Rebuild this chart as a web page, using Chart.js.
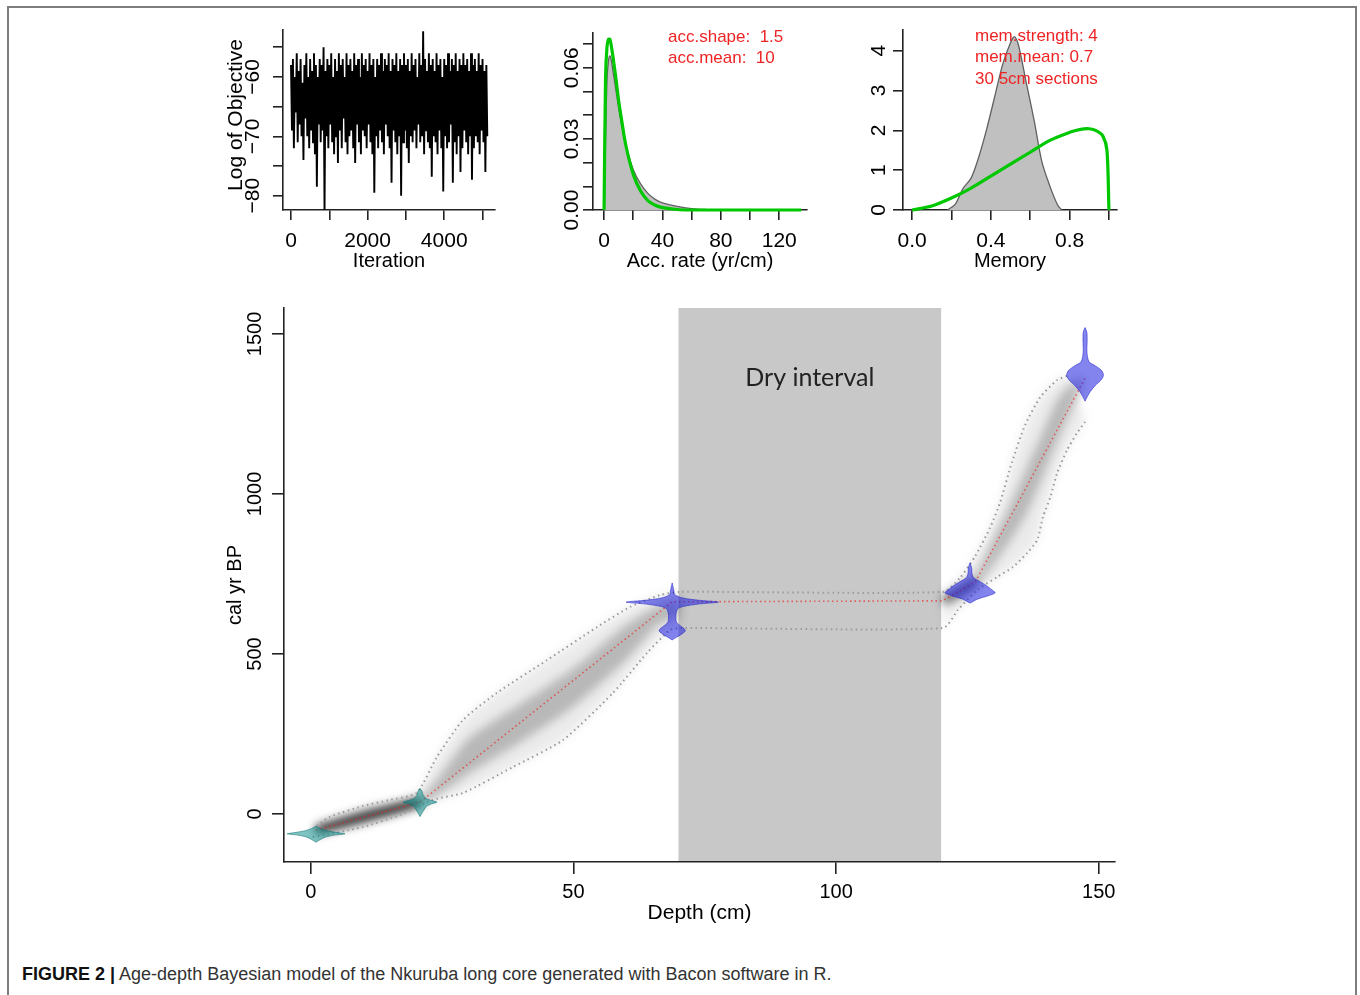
<!DOCTYPE html>
<html>
<head>
<meta charset="utf-8">
<script src="https://cdn.jsdelivr.net/npm/chart.js@4.4.1/dist/chart.umd.min.js"></script>
<style>
  body { margin: 0; background: #fff; }
  #page { position: relative; width: 1360px; height: 995px; overflow: hidden; background: #fff; }
  canvas { position: absolute; }
  #frame { position: absolute; left: 7px; top: 6px; width: 1346px; height: 1000px; border: 2px solid #7d7d7d; border-bottom: none; }
  #caption { position: absolute; left: 22px; top: 964px; font: 18px 'Liberation Sans', Arial, sans-serif; color: #333; white-space: nowrap; }
  #caption b { color: #111; }
  #mainShade { filter: blur(5px); }
</style>
</head>
<body>
<div id="page">
  <div id="frame"></div>
  <canvas id="trace" width="320" height="290" style="left:200px;top:0px"></canvas>
  <canvas id="acc" width="320" height="290" style="left:520px;top:0px"></canvas>
  <canvas id="mem" width="320" height="290" style="left:830px;top:0px"></canvas>
  <canvas id="mainBg" width="960" height="650" style="left:200px;top:290px"></canvas>
  <canvas id="mainShade" width="960" height="650" style="left:200px;top:290px"></canvas>
  <canvas id="mainFg" width="960" height="650" style="left:200px;top:290px"></canvas>
  <div id="caption"><b>FIGURE 2 |</b> Age-depth Bayesian model of the Nkuruba long core generated with Bacon software in R.</div>
</div>
<script>
// --- MCMC trace (one value every traceStep iterations) ---
const traceStep = 25;
const traceLogObj = [
  -58,-69,-57,-72,-60,-66,-56,-71,-59,-68,
  -57,-70,-61,-74,-58,-67,-56,-70,-60,-72,
  -57,-69,-59,-71,-56,-73,-58,-78.5,-60,-68,
  -57,-71,-58,-69,-55,-82.5,-59,-70,-57,-72,
  -58,-68,-56,-71,-60,-73,-57,-70,-59,-74.5,
  -56,-69,-58,-72,-57,-67,-60,-71,-56,-73,
  -58,-70,-57,-69,-59,-72,-56,-74.5,-58,-68,
  -57,-71,-60,-73,-56,-69,-58,-70,-57,-72,
  -59,-68,-56,-71,-58,-73,-57,-79.5,-60,-70,
  -57,-72,-58,-69,-56,-71,-59,-73,-57,-68,
  -58,-70,-56,-72,-59,-77.8,-57,-69,-58,-71,
  -56,-73,-59,-70,-57,-80,-58,-71,-56,-69,
  -58,-72,-57,-74.5,-59,-70,-56,-71,-58,-69,
  -57,-72,-60,-68,-56,-71,-58,-70,-52.3,-73,
  -57,-69,-59,-71,-56,-72,-58,-76.8,-57,-70,
  -59,-71,-56,-73,-58,-69,-57,-72,-60,-79.3,
  -57,-70,-58,-72,-56,-71,-59,-68,-57,-77.8,
  -58,-71,-56,-73,-59,-70,-57,-76,-58,-72,
  -56,-69,-58,-71,-57,-73,-59,-70,-56,-77.3,
  -58,-72,-57,-70,-59,-71,-56,-73,-58,-69,
  -57,-71,-59,-76,-58,-70
];
const traceXTicks = [0, 1000, 2000, 3000, 4000, 5000];
const traceXLabels = ['0', '', '2000', '', '4000', ''];
const traceYTicks = [-80, -75, -70, -65, -60, -55];
const traceYLabels = ['\u221280', '', '\u221270', '', '\u221260', ''];

// --- accumulation rate: posterior (grey) and prior (green) ---
const accPostX = [0, 1, 2, 3, 4, 5, 6, 8, 10, 12, 15, 20, 25, 30, 35, 40, 50, 60, 70, 80, 100, 120, 135];
const accPosterior = [0, 0.03, 0.055, 0.063, 0.065, 0.063, 0.059, 0.051, 0.043, 0.036, 0.027, 0.017, 0.011, 0.007, 0.0045, 0.003, 0.0015, 0.0006, 0.0002, 0, 0, 0, 0];
const accPriorX = [0, 1, 2, 3, 4, 5, 6, 8, 10, 12, 15, 20, 25, 30, 35, 40, 50, 60, 80, 100, 120, 135];
const accPrior = [0, 0.056, 0.069, 0.072, 0.072, 0.069, 0.065, 0.056, 0.046, 0.038, 0.027, 0.015, 0.008, 0.004, 0.002, 0.001, 0.0002, 0, 0, 0, 0, 0];
const accXTicks = [0, 20, 40, 60, 80, 100, 120];
const accXLabels = ['0', '', '40', '', '80', '', '120'];
const accYTicks = [0, 0.01, 0.02, 0.03, 0.04, 0.05, 0.06, 0.07];
const accYLabels = ['0.00', '', '', '0.03', '', '', '0.06', ''];
const accNotes = ['acc.shape:  1.5', 'acc.mean:  10'];

// --- memory: posterior (grey) and prior (green) ---
const memPostX = [0.18, 0.22, 0.26, 0.30, 0.34, 0.38, 0.42, 0.46, 0.50, 0.52, 0.54, 0.58, 0.62, 0.66, 0.70, 0.74, 0.76];
const memPosterior = [0, 0.15, 0.55, 0.8, 1.35, 2.05, 2.85, 3.65, 4.2, 4.35, 4.15, 3.2, 2.25, 1.2, 0.6, 0.12, 0];
const memPriorX = [0, 0.1, 0.2, 0.3, 0.4, 0.5, 0.6, 0.7, 0.8, 0.85, 0.9, 0.94, 0.97, 0.99, 1.0];
const memPrior = [0, 0.1, 0.3, 0.55, 0.85, 1.15, 1.45, 1.75, 1.95, 2.02, 2.04, 1.98, 1.85, 1.5, 0];
const memXTicks = [0, 0.2, 0.4, 0.6, 0.8, 1.0];
const memXLabels = ['0.0', '', '0.4', '', '0.8', ''];
const memYTicks = [0, 1, 2, 3, 4];
const memYLabels = ['0', '1', '2', '3', '4'];
const memNotes = ['mem.strength: 4', 'mem.mean: 0.7', '30 5cm sections'];

// --- age-depth model ---
const depthTicks = [0, 50, 100, 150];
const ageTicks = [0, 500, 1000, 1500];
const dryStart = 70, dryEnd = 120;
const dryLabel = 'Dry interval';

const meanDepth = [1, 20.8, 68.8, 120.2, 126.5, 147.4];
const meanAge = [-50, 37, 663, 666, 725, 1362];

const envOldDepth = [1.1, 3.6, 9.9, 15, 20.2, 24, 29, 35.4, 45, 54.5, 60.8, 66.5, 70.3, 120.4, 123.6, 126.5, 129.3, 131.2, 133.5, 136, 138.9, 142.1, 144];
const envOldAge = [-37, -9, 25, 44, 66, 178, 294, 378, 481, 584, 647, 684, 694, 694, 738, 806, 894, 972, 1100, 1216, 1303, 1356, 1369];
const envYoungDepth = [0.4, 9.9, 17, 23.2, 29, 38.5, 48, 57.5, 64, 68.4, 70.3, 120.4, 123.2, 126.9, 130.7, 133.7, 136.4, 138.3, 139.4, 140.8, 142.1, 144, 145.9, 147.4];
const envYoungAge = [-72, -41, -3, 44, 66, 147, 231, 378, 503, 575, 581, 581, 638, 700, 741, 772, 816, 856, 928, 991, 1066, 1138, 1191, 1225];

// darker core of the age-model cloud
const coreDepth = [1, 10, 21, 30, 40, 50, 60, 66, 70, 120.4, 123.5, 126.5, 130, 133, 136, 139, 142, 145, 147];
const coreOld = [-42, 12, 52, 235, 345, 455, 590, 650, 670, 680, 705, 745, 860, 960, 1070, 1180, 1290, 1350, 1365];
const coreYoung = [-60, -25, 25, 125, 225, 335, 480, 590, 620, 650, 670, 705, 780, 850, 930, 1040, 1160, 1270, 1335];

// dates: depth, type, calibrated age distribution
const dateDepth = [1.0, 20.8, 68.8, 125.5, 147.4];
const dateType = ['calBP', 'calBP', '14C', '14C', '14C'];
const date1Age = [-38, -45, -52, -58, -62, -66, -72, -80, -88];
const date1Prob = [0, 0.008, 0.02, 0.04, 0.055, 0.035, 0.018, 0.008, 0];
const date2Age = [80, 70, 58, 48, 42, 37, 32, 24, 14, 4, -8];
const date2Prob = [0, 0.004, 0.006, 0.012, 0.022, 0.032, 0.022, 0.012, 0.008, 0.004, 0];
const date3Age = [722, 700, 685, 675, 668, 662, 656, 648, 640, 620, 600, 590, 580, 572, 562, 552, 544];
const date3Prob = [0, 0.003, 0.005, 0.02, 0.05, 0.088, 0.05, 0.02, 0.01, 0.007, 0.008, 0.014, 0.022, 0.025, 0.018, 0.008, 0];
const date4Age = [784, 770, 750, 738, 725, 715, 700, 691, 682, 672, 659];
const date4Prob = [0, 0.003, 0.004, 0.007, 0.02, 0.03, 0.042, 0.048, 0.035, 0.015, 0];
const date5Age = [1520, 1505, 1480, 1450, 1430, 1412, 1400, 1385, 1370, 1355, 1340, 1320, 1300, 1290];
const date5Prob = [0, 0.0035, 0.004, 0.0035, 0.0045, 0.008, 0.02, 0.032, 0.035, 0.03, 0.02, 0.01, 0.003, 0];
const dateAges = [date1Age, date2Age, date3Age, date4Age, date5Age];
const dateProbs = [date1Prob, date2Prob, date3Prob, date4Prob, date5Prob];

// ---------------------------------------------------------------
const FONT = "'Liberation Sans', Arial, sans-serif";
const AX = '#222';
Chart.defaults.font.family = FONT;
Chart.defaults.color = '#000';
Chart.defaults.animation = false;

const pts = (xs, ys) => xs.map((x, i) => ({ x: x, y: ys[i] }));

function vText(ctx, txt, x, y, size) {
  ctx.save();
  ctx.translate(x, y);
  ctx.rotate(-Math.PI / 2);
  ctx.font = size + 'px ' + FONT;
  ctx.fillStyle = '#000';
  ctx.textAlign = 'center';
  ctx.textBaseline = 'middle';
  ctx.fillText(txt, 0, 0);
  ctx.restore();
}
function hText(ctx, txt, x, y, size, color, align, family) {
  ctx.save();
  ctx.font = size + 'px ' + (family || FONT);
  ctx.fillStyle = color || '#000';
  ctx.textAlign = align || 'center';
  ctx.textBaseline = 'middle';
  ctx.fillText(txt, x, y);
  ctx.restore();
}

function panelOptions(xMin, xMax, xTicks, xLabels, yMin, yMax, yTicks, yWidth, pad) {
  return {
    responsive: false,
    animation: false,
    layout: { padding: pad },
    plugins: { legend: { display: false }, tooltip: { enabled: false } },
    scales: {
      x: {
        type: 'linear', min: xMin, max: xMax,
        afterBuildTicks: s => { s.ticks = xTicks.map(v => ({ value: v })); },
        afterFit: s => { s.height = 80; },
        border: { color: AX, width: 1.6 },
        grid: { drawOnChartArea: false, tickLength: 10, color: AX, lineWidth: 1.6 },
        ticks: { autoSkip: false, maxRotation: 0, minRotation: 0, padding: 9, font: { size: 21 }, color: '#000',
                 callback: (v, i) => xLabels[i] }
      },
      y: {
        type: 'linear', min: yMin, max: yMax,
        afterBuildTicks: s => { s.ticks = yTicks.map(v => ({ value: v })); },
        afterFit: s => { s.width = yWidth; },
        border: { color: AX, width: 1.6 },
        grid: { drawOnChartArea: false, tickLength: 10, color: AX, lineWidth: 1.6 },
        ticks: { display: false }
      }
    }
  };
}

// trace plot
new Chart(document.getElementById('trace'), {
  type: 'line',
  data: { datasets: [{
    data: traceLogObj.map((v, i) => ({ x: i * traceStep, y: v })),
    borderColor: '#000', borderWidth: 1.9, pointRadius: 0, tension: 0
  }] },
  options: panelOptions(-209, 5326, traceXTicks, traceXLabels, -82.4, -52.1, traceYTicks, 83, { top: 30, right: 25, left: 0, bottom: 0 }),
  plugins: [{ id: 'traceText', afterDraw(chart) {
    const { ctx, chartArea: ca, scales: { y } } = chart;
    traceYTicks.forEach((v, i) => { if (traceYLabels[i]) vText(ctx, traceYLabels[i], ca.left - 30, y.getPixelForValue(v), 21); });
    vText(ctx, 'Log of Objective', ca.left - 47, 115, 21);
    hText(ctx, 'Iteration', (ca.left + ca.right) / 2, ca.bottom + 51, 20);
  } }]
});

// accumulation rate
new Chart(document.getElementById('acc'), {
  type: 'line',
  data: { datasets: [
    { data: pts(accPriorX, accPrior), borderColor: '#00c800', borderWidth: 3.2, pointRadius: 0, tension: 0.3, clip: false },
    { data: pts(accPostX, accPosterior), borderColor: '#606060', borderWidth: 1.3, backgroundColor: '#c0c0c0', fill: 'origin', pointRadius: 0, tension: 0.3 }
  ] },
  options: panelOptions(-7.6, 139, accXTicks, accXLabels, 0, 0.0747, accYTicks, 73, { top: 33, right: 33, left: 0, bottom: 0 }),
  plugins: [{ id: 'accText', afterDraw(chart) {
    const { ctx, chartArea: ca, scales: { y } } = chart;
    accYTicks.forEach((v, i) => { if (accYLabels[i]) vText(ctx, accYLabels[i], ca.left - 21, y.getPixelForValue(v), 21); });
    hText(ctx, 'Acc. rate (yr/cm)', (ca.left + ca.right) / 2, ca.bottom + 51, 20);
    accNotes.forEach((t, i) => hText(ctx, t, 148, 37 + i * 21, 17, 'rgb(238,36,36)', 'left'));
  } }]
});

// memory
new Chart(document.getElementById('mem'), {
  type: 'line',
  data: { datasets: [
    { data: pts(memPriorX, memPrior), borderColor: '#00c800', borderWidth: 3.2, pointRadius: 0, tension: 0.3, clip: false },
    { data: pts(memPostX, memPosterior), borderColor: '#606060', borderWidth: 1.3, backgroundColor: '#c0c0c0', fill: 'origin', pointRadius: 0, tension: 0.3 }
  ] },
  options: panelOptions(-0.046, 1.041, memXTicks, memXLabels, 0, 4.52, memYTicks, 73, { top: 30, right: 33, left: 0, bottom: 0 }),
  plugins: [{ id: 'memText', afterDraw(chart) {
    const { ctx, chartArea: ca, scales: { y } } = chart;
    memYTicks.forEach((v, i) => { if (memYLabels[i]) vText(ctx, memYLabels[i], ca.left - 24, y.getPixelForValue(v), 21); });
    hText(ctx, 'Memory', (ca.left + ca.right) / 2, ca.bottom + 51, 20);
    memNotes.forEach((t, i) => hText(ctx, t, 145, 36 + i * 21.5, 17, 'rgb(238,36,36)', 'left'));
  } }]
});

// ---- main age-depth plot (3 stacked layers with the same axes) ----
const X_MIN = -5.1, X_MAX = 153.1, Y_MIN = -150, Y_MAX = 1581;

function mainOptions(visible) {
  return {
    responsive: false,
    animation: false,
    layout: { padding: { top: 18, right: 45, left: 0, bottom: 0 } },
    plugins: { legend: { display: false }, tooltip: { enabled: false } },
    scales: {
      x: {
        type: 'linear', min: X_MIN, max: X_MAX,
        afterBuildTicks: s => { s.ticks = depthTicks.map(v => ({ value: v })); },
        afterFit: s => { s.height = 78; },
        border: { display: visible, color: AX, width: 1.6 },
        grid: { display: visible, drawOnChartArea: false, tickLength: 12, color: AX, lineWidth: 1.6 },
        ticks: { display: visible, autoSkip: false, maxRotation: 0, minRotation: 0, padding: 6, font: { size: 20 }, color: '#000' }
      },
      y: {
        type: 'linear', min: Y_MIN, max: Y_MAX,
        afterBuildTicks: s => { s.ticks = ageTicks.map(v => ({ value: v })); },
        afterFit: s => { s.width = 84; },
        border: { display: visible, color: AX, width: 1.6 },
        grid: { display: visible, drawOnChartArea: false, tickLength: 12, color: AX, lineWidth: 1.6 },
        ticks: { display: false }
      }
    }
  };
}

// background: dry interval
new Chart(document.getElementById('mainBg'), {
  type: 'line',
  data: { datasets: [{
    data: pts([dryStart, dryEnd, dryEnd, dryStart], [Y_MIN, Y_MIN, Y_MAX, Y_MAX]),
    fill: 'shape', backgroundColor: '#c8c8c8', borderWidth: 0, pointRadius: 0
  }] },
  options: mainOptions(false)
});

// blurred grey cloud of the age model
function bandShape(dOld, aOld, dYoung, aYoung, keep) {
  const up = [], lo = [];
  dOld.forEach((d, i) => { if (keep(d)) up.push({ x: d, y: aOld[i] }); });
  dYoung.forEach((d, i) => { if (keep(d)) lo.push({ x: d, y: aYoung[i] }); });
  return up.concat(lo.reverse());
}
const leftPart = d => d < dryStart + 1;
const rightPart = d => d > dryEnd;
const shadeSets = [
  [envOldDepth, envOldAge, envYoungDepth, envYoungAge, 'rgba(0,0,0,0.08)'],
  [coreDepth, coreOld, coreDepth, coreYoung, 'rgba(0,0,0,0.22)']
].flatMap(([d1, a1, d2, a2, col]) => [leftPart, rightPart].map(k => ({
  data: bandShape(d1, a1, d2, a2, k), fill: 'shape', backgroundColor: col, borderWidth: 0, pointRadius: 0, tension: 0.2
})));
shadeSets.push({
  data: pts(meanDepth.slice(0, 2), meanAge.slice(0, 2)),
  borderColor: 'rgba(0,0,0,0.92)', borderWidth: 8, pointRadius: 0
});
shadeSets.push({
  data: pts(meanDepth.slice(3, 5), meanAge.slice(3, 5)),
  borderColor: 'rgba(0,0,0,0.7)', borderWidth: 5, pointRadius: 0
});
new Chart(document.getElementById('mainShade'), {
  type: 'line',
  data: { datasets: shadeSets },
  options: mainOptions(false)
});

// foreground: envelopes, mean, dates, axes
const dateSets = dateDepth.map((dep, k) => {
  const ages = dateAges[k], probs = dateProbs[k];
  const left = ages.map((a, i) => ({ x: dep - probs[i] * 100, y: a }));
  const right = ages.map((a, i) => ({ x: dep + probs[i] * 100, y: a })).reverse();
  const cyan = dateType[k] === 'calBP';
  return {
    data: left.concat(right), fill: 'shape', order: 0, pointRadius: 0, tension: 0.25,
    backgroundColor: cyan ? 'rgba(0,135,135,0.5)' : 'rgba(20,20,225,0.52)',
    borderColor: cyan ? 'rgba(0,110,110,0.55)' : 'rgba(20,20,200,0.5)', borderWidth: 1
  };
});
new Chart(document.getElementById('mainFg'), {
  type: 'line',
  data: { datasets: dateSets.concat([
    { data: pts(envOldDepth, envOldAge), borderColor: '#9a9a9a', borderWidth: 2, borderDash: [1.5, 3.5], pointRadius: 0, tension: 0.2, order: 2 },
    { data: pts(envYoungDepth, envYoungAge), borderColor: '#9a9a9a', borderWidth: 2, borderDash: [1.5, 3.5], pointRadius: 0, tension: 0.2, order: 2 },
    { data: pts(meanDepth, meanAge), borderColor: 'rgba(235,30,30,0.65)', borderWidth: 1.6, borderDash: [1.5, 3], pointRadius: 0, order: 1 }
  ]) },
  options: mainOptions(true),
  plugins: [{ id: 'mainText', afterDraw(chart) {
    const { ctx, chartArea: ca, scales: { x, y } } = chart;
    ageTicks.forEach(v => vText(ctx, String(v), ca.left - 29, y.getPixelForValue(v), 20));
    vText(ctx, 'cal yr BP', ca.left - 49, (ca.top + ca.bottom) / 2, 20);
    hText(ctx, 'Depth (cm)', (ca.left + ca.right) / 2, ca.bottom + 51, 21);
    hText(ctx, dryLabel, x.getPixelForValue((dryStart + dryEnd) / 2), ca.top + 70, 25, '#222', 'center', 'Lato, sans-serif');
  } }]
});
</script>
</body>
</html>
